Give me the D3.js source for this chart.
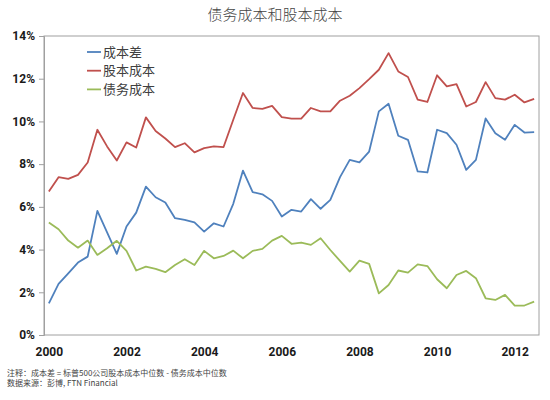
<!DOCTYPE html>
<html>
<head>
<meta charset="utf-8">
<script src="https://cdn.jsdelivr.net/npm/d3@7"></script>
<style>
  body { margin: 0; background: #fff; }
  svg { display: block; }
</style>
</head>
<body>
<main></main>
<script>
// Quarterly data, 2000Q1 - 2012Q3 (percent)

const quarters = [
  '2000Q1', '2000Q2', '2000Q3', '2000Q4', '2001Q1', '2001Q2', '2001Q3', '2001Q4',
  '2002Q1', '2002Q2', '2002Q3', '2002Q4', '2003Q1', '2003Q2', '2003Q3', '2003Q4',
  '2004Q1', '2004Q2', '2004Q3', '2004Q4', '2005Q1', '2005Q2', '2005Q3', '2005Q4',
  '2006Q1', '2006Q2', '2006Q3', '2006Q4', '2007Q1', '2007Q2', '2007Q3', '2007Q4',
  '2008Q1', '2008Q2', '2008Q3', '2008Q4', '2009Q1', '2009Q2', '2009Q3', '2009Q4',
  '2010Q1', '2010Q2', '2010Q3', '2010Q4', '2011Q1', '2011Q2', '2011Q3', '2011Q4',
  '2012Q1', '2012Q2', '2012Q3',
];

// 成本差
const spread = [
  1.48, 2.39, 2.89, 3.39, 3.67, 5.81, 4.8, 3.8, 5.08, 5.73, 6.95, 6.45, 6.2,
  5.47, 5.39, 5.27, 4.84, 5.23, 5.08, 6.14, 7.7, 6.69, 6.59, 6.28, 5.55, 5.86,
  5.78, 6.36, 5.91, 6.33, 7.39, 8.2, 8.08, 8.59, 10.47, 10.83, 9.33, 9.14, 7.66,
  7.61, 9.61, 9.45, 8.91, 7.73, 8.2, 10.14, 9.45, 9.14, 9.84, 9.48, 9.5,
];

// 股本成本
const equity = [
  6.72, 7.39, 7.31, 7.5, 8.08, 9.61, 8.83, 8.17, 9.02, 8.78, 10.19, 9.55, 9.2,
  8.8, 8.98, 8.55, 8.75, 8.83, 8.8, 10.08, 11.33, 10.63, 10.59, 10.73, 10.2,
  10.13, 10.13, 10.63, 10.47, 10.47, 10.97, 11.2, 11.56, 11.98, 12.42, 13.2,
  12.34, 12.08, 11.02, 10.91, 12.16, 11.64, 11.75, 10.7, 10.91, 11.84, 11.09,
  11.02, 11.25, 10.89, 11.06,
];

// 债务成本
const debt = [
  5.27, 4.95, 4.42, 4.09, 4.42, 3.75, 4.06, 4.41, 3.94, 3.02, 3.2, 3.1, 2.94,
  3.28, 3.55, 3.28, 3.94, 3.59, 3.7, 3.95, 3.59, 3.94, 4.03, 4.42, 4.64, 4.27,
  4.33, 4.22, 4.53, 3.98, 3.47, 2.97, 3.48, 3.33, 1.95, 2.34, 3.02, 2.92, 3.31,
  3.23, 2.61, 2.19, 2.81, 3.0, 2.66, 1.72, 1.64, 1.88, 1.38, 1.38, 1.56,
];

const seriesNames = ['成本差', '股本成本', '债务成本'];
const seriesColors = ['#4f81bd', '#c0504d', '#9bbb59'];

const yTicks = [0, 2, 4, 6, 8, 10, 12, 14];
const xTickQuarters = ['2000Q1', '2002Q1', '2004Q1', '2006Q1', '2008Q1', '2010Q1', '2012Q1'];
const xTickLabels = ['2000', '2002', '2004', '2006', '2008', '2010', '2012'];

const title = '债务成本和股本成本';
const notes = [
  '注释：成本差 = 标普500公司股本成本中位数 - 债务成本中位数',
  '数据来源：彭博, FTN Financial',
];

// Layout

const w = 550;
const h = 400;
const plot = { left: 44, right: 539, top: 36, bottom: 335 };
const tickFont = 'Roboto, "DejaVu Sans", sans-serif';
const cjkFont = '"Noto Sans CJK SC", sans-serif';

const svg = d3.select('main').append('svg').attr('width', w).attr('height', h);

const x = d3
  .scalePoint()
  .domain(quarters)
  .range([plot.left, plot.right])
  .padding(0.5);

const y = d3.scaleLinear().domain([0, 14]).range([plot.bottom, plot.top]);

// title
svg
  .append('text')
  .attr('x', 275)
  .attr('y', 20)
  .attr('text-anchor', 'middle')
  .style('font-family', cjkFont)
  .style('font-weight', 300)
  .style('font-size', '15px')
  .style('fill', '#444')
  .text(title);

// plot frame
svg
  .append('rect')
  .attr('x', plot.left)
  .attr('y', plot.top)
  .attr('width', plot.right - plot.left)
  .attr('height', plot.bottom - plot.top)
  .attr('fill', 'none')
  .attr('stroke', '#a0a0a0')
  .attr('stroke-width', 1);

// y axis
const yAxis = d3
  .axisLeft(y)
  .tickValues(yTicks)
  .tickSize(5)
  .tickPadding(4)
  .tickFormat((d) => `${d}%`);

const gy = svg.append('g').attr('transform', `translate(${plot.left},0)`).call(yAxis);
gy.select('.domain').attr('stroke', '#a0a0a0');
gy.selectAll('.tick line').attr('stroke', '#a0a0a0');
gy.selectAll('.tick text')
  .style('font-family', tickFont)
  .style('font-weight', 700)
  .style('font-size', '12px')
  .style('fill', '#1a1a1a');

// x axis (labels only)
const xAxis = d3
  .axisBottom(x)
  .tickValues(xTickQuarters)
  .tickSize(0)
  .tickPadding(12)
  .tickFormat((d) => xTickLabels[xTickQuarters.indexOf(d)]);

const gx = svg.append('g').attr('transform', `translate(0,${plot.bottom})`).call(xAxis);
gx.select('.domain').remove();
gx.selectAll('.tick text')
  .style('font-family', tickFont)
  .style('font-weight', 700)
  .style('font-size', '12px')
  .style('fill', '#1a1a1a');

// lines
const line = d3
  .line()
  .x((d, i) => x(quarters[i]))
  .y((d) => y(d));

svg
  .selectAll('path.series')
  .data([spread, equity, debt])
  .enter()
  .append('path')
  .attr('class', 'series')
  .attr('d', line)
  .attr('fill', 'none')
  .attr('stroke', (d, i) => seriesColors[i])
  .attr('stroke-width', 1.8)
  .attr('stroke-linejoin', 'round');

// legend
const legend = svg
  .selectAll('g.legend')
  .data(seriesNames)
  .enter()
  .append('g')
  .attr('class', 'legend')
  .attr('transform', (d, i) => `translate(87,${52 + i * 18.7})`);

legend
  .append('line')
  .attr('x1', 0)
  .attr('x2', 14)
  .attr('stroke', (d, i) => seriesColors[i])
  .attr('stroke-width', 1.8);

legend
  .append('text')
  .attr('x', 16)
  .attr('dy', '0.35em')
  .style('font-family', cjkFont)
  .style('font-size', '13px')
  .style('fill', '#404040')
  .text((d) => d);

// notes
svg
  .selectAll('text.note')
  .data(notes)
  .enter()
  .append('text')
  .attr('class', 'note')
  .attr('x', 7)
  .attr('y', (d, i) => 376 + i * 9.5)
  .style('font-family', cjkFont)
  .style('font-size', '8px')
  .style('fill', '#444')
  .text((d) => d);
</script>
</body>
</html>
